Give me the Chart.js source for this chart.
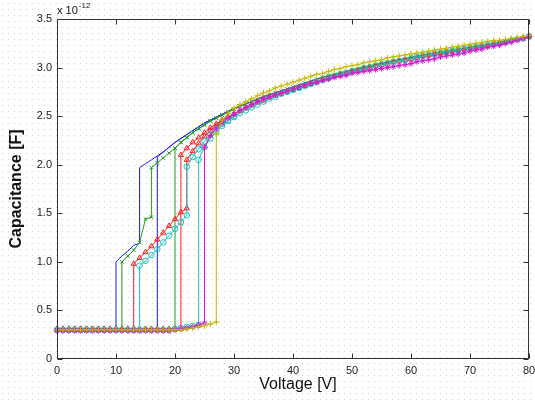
<!DOCTYPE html>
<html>
<head>
<meta charset="utf-8">
<script src="https://cdn.jsdelivr.net/npm/chart.js@4.4.0/dist/chart.umd.min.js"></script>
<style>
  html, body { margin: 0; padding: 0; background: #fff; }
  canvas { display: block; }
</style>
</head>
<body>
<canvas id="cvChart" width="535" height="403"></canvas>
<script>
// voltage steps (V)
const volts = [
  0, 1, 2, 3, 4, 5, 6, 7, 8, 9,
  10, 11, 12, 13, 14, 15, 16, 17, 18, 19,
  20, 21, 22, 23, 24, 25, 26, 27, 28, 29,
  30, 31, 32, 33, 34, 35, 36, 37, 38, 39,
  40, 41, 42, 43, 44, 45, 46, 47, 48, 49,
  50, 51, 52, 53, 54, 55, 56, 57, 58, 59,
  60, 61, 62, 63, 64, 65, 66, 67, 68, 69,
  70, 71, 72, 73, 74, 75, 76, 77, 78, 79,
  80
];
const xTicks = [0, 10, 20, 30, 40, 50, 60, 70, 80];
const yTicks = [0, 0.5, 1, 1.5, 2, 2.5, 3, 3.5];

// capacitance in units of 1e-12 F; a pair [before, after] marks a jump at that voltage
const blueUp = [
  0.29, 0.29, 0.29, 0.29, 0.29, 0.29, 0.29, 0.29, 0.29, 0.29,
  0.29, 0.29, 0.29, 0.29, 0.29, 0.29, 0.29, [0.30, 2.08], 2.13, 2.18,
  2.23, 2.27, 2.31, 2.35, 2.39, 2.43, 2.46, 2.49, 2.52, 2.55,
  2.58, 2.60, 2.63, 2.65, 2.68, 2.70, 2.72, 2.74, 2.76, 2.78,
  2.80, 2.82, 2.84, 2.86, 2.88, 2.90, 2.91, 2.93, 2.94, 2.96,
  2.97, 2.99, 3.00, 3.01, 3.03, 3.04, 3.05, 3.06, 3.08, 3.09,
  3.10, 3.11, 3.12, 3.13, 3.14, 3.15, 3.16, 3.17, 3.18, 3.19,
  3.20, 3.21, 3.22, 3.23, 3.24, 3.25, 3.26, 3.27, 3.29, 3.30,
  3.32
];
const blueDown = [
  0.30, 0.30, 0.30, 0.30, 0.30, 0.30, 0.30, 0.30, 0.30, 0.30,
  [0.30, 1.00], 1.06, 1.11, 1.17, [1.19, 1.97], 2.01, 2.05, 2.09, 2.13, 2.18,
  2.23, 2.27, 2.31, 2.35, 2.39, 2.43, 2.46, 2.49, 2.52, 2.55,
  2.58
];
const greenUp = [
  0.30, 0.30, 0.30, 0.30, 0.30, 0.30, 0.30, 0.30, 0.30, 0.30,
  0.30, 0.30, 0.30, 0.30, 0.30, 0.30, 0.30, 0.30, 0.30, 0.30,
  [0.30, 2.17], 2.23, 2.28, 2.33, 2.37, 2.41, 2.45, 2.48, 2.51, 2.54,
  2.57, 2.60, 2.62, 2.65, 2.67, 2.70, 2.72, 2.74, 2.76, 2.78,
  2.80, 2.82, 2.84, 2.86, 2.88, 2.90, 2.92, 2.93, 2.95, 2.96,
  2.98, 2.99, 3.01, 3.02, 3.03, 3.05, 3.06, 3.07, 3.08, 3.09,
  3.11, 3.12, 3.13, 3.14, 3.15, 3.16, 3.17, 3.18, 3.19, 3.20,
  3.21, 3.22, 3.23, 3.24, 3.25, 3.26, 3.27, 3.28, 3.29, 3.30,
  3.32
];
const greenDown = [
  0.30, 0.30, 0.30, 0.30, 0.30, 0.30, 0.30, 0.30, 0.30, 0.30,
  0.30, [0.30, 1.00], 1.06, 1.12, 1.20, 1.44, [1.46, 1.97], 2.02, 2.07, 2.12,
  2.17, 2.23, 2.28, 2.33, 2.37, 2.41, 2.45, 2.48, 2.51, 2.54,
  2.57
];
const redUp = [
  0.31, 0.31, 0.31, 0.31, 0.31, 0.31, 0.31, 0.31, 0.31, 0.31,
  0.31, 0.31, 0.31, 0.31, 0.31, 0.31, 0.31, 0.31, 0.31, 0.31,
  0.31, [0.31, 2.10], 2.17, 2.23, 2.28, 2.33, 2.38, 2.42, 2.46, 2.49,
  2.52, 2.55, 2.58, 2.61, 2.64, 2.66, 2.69, 2.71, 2.73, 2.75,
  2.77, 2.79, 2.81, 2.83, 2.85, 2.87, 2.89, 2.91, 2.92, 2.94,
  2.96, 2.97, 2.99, 3.00, 3.02, 3.03, 3.04, 3.06, 3.07, 3.08,
  3.09, 3.10, 3.12, 3.13, 3.14, 3.15, 3.16, 3.17, 3.18, 3.19,
  3.20, 3.21, 3.22, 3.23, 3.24, 3.25, 3.26, 3.28, 3.29, 3.30,
  3.32
];
const redDown = [
  0.31, 0.31, 0.31, 0.31, 0.31, 0.31, 0.31, 0.31, 0.31, 0.31,
  0.31, 0.31, 0.31, [0.31, 0.98], 1.04, 1.10, 1.16, 1.23, 1.30, 1.37,
  1.44, 1.51, [1.55, 2.05], 2.14, 2.22, 2.29, 2.35, 2.40, 2.45, 2.49,
  2.52
];
const cyanUp = [
  0.30, 0.30, 0.30, 0.30, 0.30, 0.30, 0.30, 0.30, 0.30, 0.30,
  0.30, 0.30, 0.30, 0.30, 0.30, 0.30, 0.30, 0.30, 0.30, 0.30,
  0.31, 0.32, 0.33, 0.34, [0.35, 2.05], 2.18, 2.27, 2.34, 2.40, 2.45,
  2.49, 2.53, 2.56, 2.59, 2.62, 2.65, 2.68, 2.70, 2.73, 2.75,
  2.77, 2.79, 2.81, 2.83, 2.85, 2.87, 2.89, 2.91, 2.93, 2.94,
  2.96, 2.97, 2.99, 3.00, 3.02, 3.03, 3.04, 3.06, 3.07, 3.08,
  3.09, 3.11, 3.12, 3.13, 3.14, 3.15, 3.16, 3.17, 3.18, 3.19,
  3.20, 3.21, 3.22, 3.23, 3.24, 3.25, 3.26, 3.28, 3.29, 3.30,
  3.32
];
const cyanDown = [
  0.30, 0.30, 0.30, 0.30, 0.30, 0.30, 0.30, 0.30, 0.30, 0.30,
  0.30, 0.30, 0.30, 0.30, [0.30, 0.96], 1.01, 1.07, 1.13, 1.20, 1.27,
  1.34, 1.41, [1.48, 1.98], 2.08, 2.16, 2.24, 2.31, 2.37, 2.42, 2.46,
  2.50
];
const magentaUp = [
  0.29, 0.29, 0.29, 0.29, 0.29, 0.29, 0.29, 0.29, 0.29, 0.29,
  0.29, 0.29, 0.29, 0.29, 0.29, 0.29, 0.29, 0.29, 0.29, 0.29,
  0.30, 0.31, 0.32, 0.33, 0.35, [0.37, 2.18], 2.30, 2.37, 2.43, 2.48,
  2.52, 2.56, 2.59, 2.62, 2.65, 2.68, 2.70, 2.72, 2.74, 2.76,
  2.78, 2.80, 2.82, 2.84, 2.85, 2.87, 2.88, 2.90, 2.91, 2.92,
  2.94, 2.95, 2.96, 2.97, 2.98, 2.99, 3.00, 3.01, 3.02, 3.03,
  3.04, 3.06, 3.07, 3.08, 3.09, 3.11, 3.12, 3.13, 3.14, 3.15,
  3.17, 3.18, 3.19, 3.21, 3.22, 3.23, 3.25, 3.26, 3.28, 3.30,
  3.32
];
const yellowUp = [
  0.30, 0.30, 0.30, 0.30, 0.30, 0.30, 0.30, 0.30, 0.30, 0.30,
  0.30, 0.30, 0.30, 0.30, 0.30, 0.30, 0.30, 0.30, 0.30, 0.30,
  0.30, 0.30, 0.31, 0.32, 0.33, 0.34, 0.36, [0.38, 2.31], 2.46, 2.53,
  2.58, 2.62, 2.65, 2.68, 2.71, 2.74, 2.76, 2.79, 2.81, 2.83,
  2.85, 2.87, 2.89, 2.91, 2.93, 2.94, 2.96, 2.98, 2.99, 3.01,
  3.02, 3.03, 3.05, 3.06, 3.07, 3.08, 3.10, 3.11, 3.12, 3.13,
  3.14, 3.15, 3.16, 3.17, 3.18, 3.19, 3.20, 3.21, 3.22, 3.23,
  3.24, 3.25, 3.26, 3.27, 3.28, 3.28, 3.29, 3.30, 3.31, 3.32,
  3.33
];

function toPoints(values) {
  const pts = [];
  values.forEach((v, i) => {
    if (Array.isArray(v)) {
      pts.push({x: volts[i], y: v[0]}, {x: volts[i], y: v[1]});
    } else {
      pts.push({x: volts[i], y: v});
    }
  });
  return pts;
}

const styles = {
  blue:    {color: '#1a1aff', marker: 'circle', radius: 0},
  green:   {color: '#1f9a1f', marker: 'crossRot', radius: 2.5},
  red:     {color: '#ff1a1a', marker: 'triangle', radius: 3},
  cyan:    {color: '#18c4c4', marker: 'circle', radius: 2.8},
  magenta: {color: '#d21ad2', marker: 'star', radius: 3},
  yellow:  {color: '#c4b800', marker: 'cross', radius: 3}
};

const series = [
  ['blue', blueUp], ['blue', blueDown],
  ['green', greenUp], ['green', greenDown],
  ['red', redUp], ['red', redDown],
  ['cyan', cyanUp], ['cyan', cyanDown],
  ['magenta', magentaUp],
  ['yellow', yellowUp]
];

const datasets = series.map(([name, values], i) => {
  const s = styles[name];
  return {
    data: toPoints(values),
    showLine: true,
    borderColor: s.color,
    borderWidth: 1,
    pointStyle: s.marker,
    pointRadius: s.radius,
    pointBorderColor: s.color,
    pointBackgroundColor: 'rgba(0,0,0,0)',
    pointBorderWidth: 1,
    clip: false,
    order: series.length - i
  };
});

// matlab style frame, inward ticks, titles and dotted paper
const matlabAxes = {
  id: 'matlabAxes',
  beforeDraw(chart) {
    const ctx = chart.ctx;
    ctx.save();
    ctx.fillStyle = '#fff';
    ctx.fillRect(0, 0, chart.width, chart.height);
    ctx.fillStyle = '#d0d0d0';
    for (let y = 3; y < chart.height; y += 6) {
      for (let x = 2; x < chart.width; x += 6) ctx.fillRect(x, y, 1, 1);
    }
    ctx.restore();
  },
  afterDraw(chart) {
    const {ctx, chartArea: a, scales} = chart;
    const L = Math.round(a.left) + 0.5, R = Math.round(a.right) - 0.5;
    const T = Math.round(a.top) + 0.5, B = Math.round(a.bottom) - 0.5;
    ctx.save();
    ctx.strokeStyle = '#333';
    ctx.lineWidth = 1;
    ctx.strokeRect(L, T, R - L, B - T);
    ctx.beginPath();
    xTicks.forEach(v => {
      const px = Math.round(scales.x.getPixelForValue(v)) + 0.5;
      ctx.moveTo(px, B); ctx.lineTo(px, B - 5);
      ctx.moveTo(px, T); ctx.lineTo(px, T + 5);
    });
    yTicks.forEach(v => {
      const py = Math.round(scales.y.getPixelForValue(v)) + 0.5;
      ctx.moveTo(L, py); ctx.lineTo(L + 5, py);
      ctx.moveTo(R, py); ctx.lineTo(R - 5, py);
    });
    ctx.stroke();

    ctx.fillStyle = '#111';
    ctx.textBaseline = 'alphabetic';
    ctx.font = '11px "Liberation Sans", Arial, sans-serif';
    ctx.textAlign = 'left';
    ctx.fillText('x 10', a.left, 14);
    const w = ctx.measureText('x 10').width;
    ctx.font = '8px "Liberation Sans", Arial, sans-serif';
    ctx.fillText('-12', a.left + w + 1, 8);

    ctx.font = '16px "Liberation Sans", Arial, sans-serif';
    ctx.textAlign = 'center';
    ctx.textBaseline = 'middle';
    ctx.fillText('Voltage [V]', 298, 385);

    ctx.save();
    ctx.translate(17, 189);
    ctx.rotate(-Math.PI / 2);
    ctx.font = 'bold 16px "Liberation Sans", Arial, sans-serif';
    ctx.fillText('Capacitance [F]', 0, 0);
    ctx.restore();
    ctx.restore();
  }
};

const tickFont = {family: '"Liberation Sans", Arial, sans-serif', size: 11};

new Chart(document.getElementById('cvChart'), {
  type: 'scatter',
  data: {datasets: datasets},
  options: {
    responsive: false,
    animation: false,
    layout: {padding: {left: 12, right: 6, top: 19, bottom: 0}},
    plugins: {legend: {display: false}, tooltip: {enabled: false}},
    scales: {
      x: {
        type: 'linear', min: 0, max: 80,
        afterBuildTicks: s => { s.ticks = xTicks.map(v => ({value: v})); },
        afterFit: s => { s.height = 44; s.paddingLeft = 0; s.paddingRight = 0; },
        ticks: {font: tickFont, color: '#222', padding: 5, maxRotation: 0},
        grid: {display: false, drawTicks: false},
        border: {display: false}
      },
      y: {
        type: 'linear', min: 0, max: 3.5,
        afterBuildTicks: s => { s.ticks = yTicks.map(v => ({value: v})); },
        afterFit: s => { s.width = 45; s.paddingTop = 0; s.paddingBottom = 0; },
        ticks: {font: tickFont, color: '#222', padding: 5},
        grid: {display: false, drawTicks: false},
        border: {display: false}
      }
    }
  },
  plugins: [matlabAxes]
});
</script>
</body>
</html>
